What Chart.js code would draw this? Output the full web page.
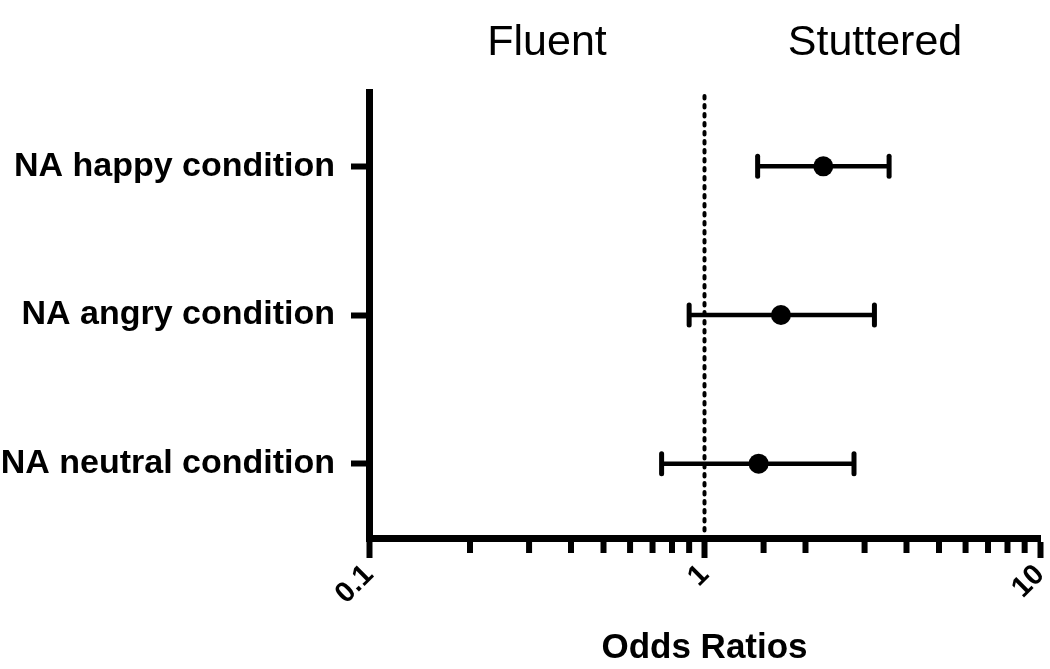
<!DOCTYPE html>
<html>
<head>
<meta charset="utf-8">
<script src="https://cdn.jsdelivr.net/npm/chart.js@4.4.0/dist/chart.umd.min.js"></script>
<style>
  html, body { margin: 0; padding: 0; background: #fff; }
  #wrap { width: 1050px; height: 669px; }
</style>
</head>
<body>
<div id="wrap"><canvas id="forest"></canvas></div>
<script>
// conditions, top to bottom
const conditions = ["NA happy condition", "NA angry condition", "NA neutral condition"];
// odds ratios with 95% CI
const oddsRatios = [2.26, 1.69, 1.45];
const ciLower = [1.44, 0.90, 0.745];
const ciUpper = [3.55, 3.21, 2.79];
const xTickLabels = [0.1, 1, 10];
const sideLabels = ["Fluent", "Stuttered"];

const isDecade = v => Math.abs(Math.log10(v) - Math.round(Math.log10(v))) < 1e-6;

/* whiskers, reference line, minor ticks and the two side headings */
const forestExtras = {
  id: "forestExtras",
  beforeDatasetsDraw(chart) {
    const { ctx, chartArea, scales: { x, y } } = chart;
    ctx.save();

    // dotted line at OR = 1
    const x1 = x.getPixelForValue(1);
    ctx.strokeStyle = "#000";
    ctx.lineWidth = 4;
    ctx.lineCap = "round";
    ctx.setLineDash([2.5, 6.5]);
    ctx.beginPath();
    ctx.moveTo(x1, chartArea.top + 4);
    ctx.lineTo(x1, chartArea.bottom - 4);
    ctx.stroke();
    ctx.setLineDash([]);

    // error bars
    conditions.forEach((c, i) => {
      const yp = y.getPixelForValue(i);
      const xl = x.getPixelForValue(ciLower[i]);
      const xh = x.getPixelForValue(ciUpper[i]);
      ctx.lineCap = "butt";
      ctx.lineWidth = 4.5;
      ctx.beginPath();
      ctx.moveTo(xl, yp);
      ctx.lineTo(xh, yp);
      ctx.stroke();
      ctx.lineWidth = 5;
      ctx.lineCap = "round";
      [xl, xh].forEach(xc => {
        ctx.beginPath();
        ctx.moveTo(xc, yp - 10);
        ctx.lineTo(xc, yp + 10);
        ctx.stroke();
      });
    });

    // minor ticks on the log axis
    ctx.lineCap = "butt";
    ctx.lineWidth = 6;
    x.ticks.forEach(t => {
      if (isDecade(t.value)) return;
      const xp = x.getPixelForValue(t.value);
      ctx.beginPath();
      ctx.moveTo(xp, chartArea.bottom);
      ctx.lineTo(xp, chartArea.bottom + 15);
      ctx.stroke();
    });

    // side headings
    ctx.fillStyle = "#000";
    ctx.font = "43px 'Liberation Sans', Arial, sans-serif";
    ctx.textAlign = "center";
    ctx.textBaseline = "middle";
    ctx.fillText(sideLabels[0], 547, 43);
    ctx.fillText(sideLabels[1], 875, 43);
    ctx.restore();
  }
};

new Chart(document.getElementById("forest"), {
  type: "scatter",
  data: {
    labels: conditions,
    datasets: [{
      data: oddsRatios.map((v, i) => ({ x: v, y: conditions[i] })),
      pointRadius: 10,
      pointHoverRadius: 10,
      backgroundColor: "#000",
      borderColor: "#000",
      borderWidth: 0
    }]
  },
  options: {
    responsive: true,
    maintainAspectRatio: false,
    animation: false,
    layout: { padding: { top: 92, right: 8, left: 0, bottom: 0 } },
    plugins: { legend: { display: false }, tooltip: { enabled: false } },
    scales: {
      x: {
        type: "logarithmic",
        min: 0.1,
        max: 10,
        border: { display: true, color: "#000", width: 7 },
        grid: {
          drawOnChartArea: false,
          tickLength: 20,
          tickWidth: 6,
          tickColor: c => (c.tick && isDecade(c.tick.value) ? "#000" : "rgba(0,0,0,0)")
        },
        ticks: {
          autoSkip: false,
          maxRotation: 45,
          minRotation: 45,
          padding: 0,
          color: "#000",
          font: { family: "'Liberation Sans', Arial, sans-serif", size: 29, weight: "bold" },
          callback: v => (xTickLabels.some(t => Math.abs(t - v) < 1e-9) ? String(v) : "")
        },
        title: {
          display: true,
          text: "Odds Ratios",
          color: "#000",
          padding: { top: 0, bottom: 0 },
          font: { family: "'Liberation Sans', Arial, sans-serif", size: 35, weight: "bold" }
        },
        afterFit: s => { s.height = 131; s.paddingRight = 0; s.paddingLeft = 0; }
      },
      y: {
        type: "category",
        offset: true,
        border: { display: true, color: "#000", width: 7 },
        grid: { drawOnChartArea: false, tickLength: 18, tickWidth: 6, tickColor: "#000", offset: false },
        ticks: {
          padding: 16,
          color: "#000",
          font: { family: "'Liberation Sans', Arial, sans-serif", size: 34, weight: "bold" }
        },
        afterFit: s => { s.width = 369; s.paddingTop = 0; s.paddingBottom = 0; }
      }
    }
  },
  plugins: [forestExtras]
});
</script>
</body>
</html>
